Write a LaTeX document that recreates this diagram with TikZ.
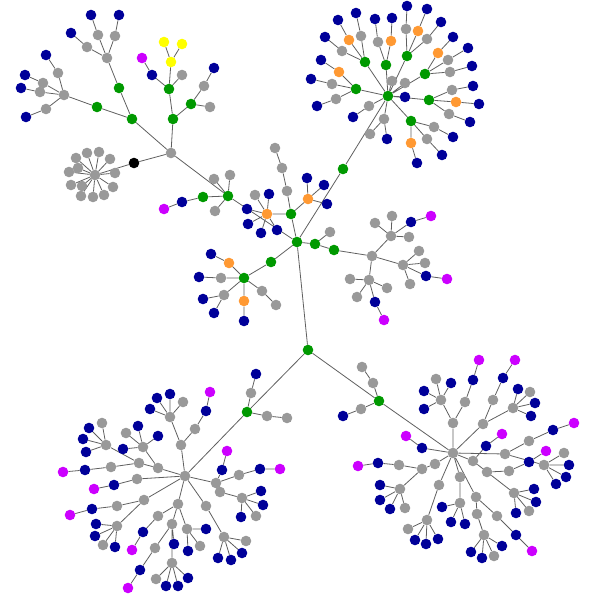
\documentclass[tikz,border=0pt]{standalone}
\usetikzlibrary{backgrounds}
\definecolor{tagGray}{RGB}{153, 153, 153}
\definecolor{tagBlue}{RGB}{0, 0, 153}
\definecolor{tagGreen}{RGB}{0, 153, 0}
\definecolor{tagOrange}{RGB}{255, 153, 51}
\definecolor{tagPink}{RGB}{204, 0, 255}
\definecolor{tagYellow}{RGB}{255, 255, 0}
\definecolor{wireGray}{RGB}{95, 95, 95}
\begin{document}
\begin{tikzpicture}[
    x=1pt, y=-1pt,
    dot/.style={circle, minimum size=10.6pt, inner sep=0pt},
    graydot/.style={dot, fill=tagGray},
    bluedot/.style={dot, fill=tagBlue},
    greendot/.style={dot, fill=tagGreen},
    orangedot/.style={dot, fill=tagOrange},
    pinkdot/.style={dot, fill=tagPink},
    yellowdot/.style={dot, fill=tagYellow},
    blackdot/.style={dot, fill=black},
    wire/.style={draw=wireGray, line width=0.8pt}
]
\useasboundingbox (0,0) rectangle (589,597);

% Hubs
\node[greendot] (root) at (308,350) {};
\node[greendot] (mid) at (297,242) {};
\node[greendot] (ne) at (388,96) {};
\node[graydot] (nw) at (171,153) {};
\node[graydot] (east) at (372,256) {};
\node[graydot] (sw) at (185,476) {};
\node[graydot] (se) at (453,453) {};

% Root branch
\node[greendot] (r1) at (247,412) {};
\node[graydot] (r2) at (251,393) {};
\node[bluedot] (r3) at (256,374) {};
\node[graydot] (r4) at (267,416) {};
\node[graydot] (r5) at (287,418) {};
\node[greendot] (r6) at (379,401) {};
\node[graydot] (r7) at (361,409) {};
\node[bluedot] (r8) at (343,416) {};
\node[graydot] (r9) at (373,383) {};
\node[graydot] (r10) at (362,367) {};

% Middle branch
\node[greendot] (m1) at (315,244) {};
\node[greendot] (m2) at (334,250) {};
\node[graydot] (m3) at (330,232) {};
\node[greendot] (m4) at (291,214) {};
\node[orangedot] (m5) at (308,199) {};
\node[bluedot] (m6) at (307,178) {};
\node[bluedot] (m7) at (324,185) {};
\node[bluedot] (m8) at (327,204) {};
\node[graydot] (m9) at (287,191) {};
\node[graydot] (m10) at (282,168) {};
\node[graydot] (m11) at (275,148) {};
\node[orangedot] (m12) at (267,214) {};
\node[bluedot] (m13) at (247,209) {};
\node[bluedot] (m14) at (248,224) {};
\node[bluedot] (m15) at (261,233) {};
\node[bluedot] (m16) at (277,230) {};
\node[bluedot] (m17) at (269,194) {};
\node[graydot] (m18) at (255,195) {};
\node[greendot] (m19) at (343,169) {};
\node[greendot] (m20) at (228,196) {};
\node[graydot] (m21) at (214,179) {};
\node[graydot] (m22) at (230,175) {};
\node[graydot] (m23) at (215,211) {};
\node[greendot] (m24) at (203,197) {};
\node[bluedot] (m25) at (182,202) {};
\node[pinkdot] (m26) at (164,209) {};
\node[greendot] (m27) at (271,262) {};
\node[greendot] (m28) at (244,278) {};
\node[orangedot] (m29) at (229,263) {};
\node[bluedot] (m30) at (211,254) {};
\node[graydot] (m31) at (221,278) {};
\node[bluedot] (m32) at (199,277) {};
\node[graydot] (m33) at (224,295) {};
\node[bluedot] (m34) at (203,299) {};
\node[bluedot] (m35) at (214,313) {};
\node[orangedot] (m36) at (244,301) {};
\node[bluedot] (m37) at (244,321) {};
\node[graydot] (m38) at (262,291) {};
\node[graydot] (m39) at (276,305) {};

% East branch
\node[graydot] (e1) at (391,236) {};
\node[graydot] (e2) at (375,223) {};
\node[graydot] (e3) at (392,216) {};
\node[bluedot] (e4) at (411,222) {};
\node[pinkdot] (e5) at (431,216) {};
\node[graydot] (e6) at (409,237) {};
\node[graydot] (e7) at (369,280) {};
\node[graydot] (e8) at (350,279) {};
\node[graydot] (e9) at (357,297) {};
\node[graydot] (e10) at (387,288) {};
\node[bluedot] (e11) at (375,302) {};
\node[pinkdot] (e12) at (384,320) {};
\node[graydot] (e13) at (403,265) {};
\node[graydot] (e14) at (419,251) {};
\node[graydot] (e15) at (425,263) {};
\node[bluedot] (e16) at (426,276) {};
\node[pinkdot] (e17) at (447,279) {};
\node[graydot] (e18) at (410,284) {};

% North-east branch
\node[greendot] (n1) at (365,62) {};
\node[orangedot] (n2) at (349,40) {};
\node[bluedot] (n3) at (338,20) {};
\node[graydot] (n4) at (361,36) {};
\node[bluedot] (n5) at (356,13) {};
\node[graydot] (n6) at (342,51) {};
\node[bluedot] (n7) at (325,37) {};
\node[greendot] (n8) at (386,65) {};
\node[graydot] (n9) at (378,42) {};
\node[bluedot] (n10) at (375,19) {};
\node[orangedot] (n11) at (391,41) {};
\node[bluedot] (n12) at (392,18) {};
\node[greendot] (n13) at (356,89) {};
\node[orangedot] (n14) at (339,72) {};
\node[bluedot] (n15) at (321,60) {};
\node[graydot] (n16) at (332,84) {};
\node[bluedot] (n17) at (311,79) {};
\node[graydot] (n18) at (336,99) {};
\node[bluedot] (n19) at (317,106) {};
\node[graydot] (n20) at (369,106) {};
\node[bluedot] (n21) at (353,117) {};
\node[graydot] (n22) at (384,119) {};
\node[graydot] (n23) at (370,134) {};
\node[bluedot] (n24) at (387,139) {};
\node[graydot] (n25) at (392,81) {};
\node[graydot] (n26) at (405,83) {};
\node[bluedot] (n27) at (405,97) {};
\node[greendot] (n28) at (407,56) {};
\node[graydot] (n29) at (406,29) {};
\node[bluedot] (n30) at (407,6) {};
\node[orangedot] (n31) at (418,31) {};
\node[bluedot] (n32) at (427,9) {};
\node[graydot] (n33) at (427,39) {};
\node[bluedot] (n34) at (441,22) {};
\node[greendot] (n35) at (425,74) {};
\node[orangedot] (n36) at (438,53) {};
\node[bluedot] (n37) at (453,37) {};
\node[graydot] (n38) at (448,60) {};
\node[bluedot] (n39) at (468,48) {};
\node[graydot] (n40) at (450,72) {};
\node[bluedot] (n41) at (472,66) {};
\node[greendot] (n42) at (429,100) {};
\node[graydot] (n43) at (452,90) {};
\node[bluedot] (n44) at (473,86) {};
\node[orangedot] (n45) at (456,102) {};
\node[bluedot] (n46) at (479,104) {};
\node[graydot] (n47) at (449,114) {};
\node[bluedot] (n48) at (470,122) {};
\node[greendot] (n49) at (411,121) {};
\node[graydot] (n50) at (434,127) {};
\node[bluedot] (n51) at (453,137) {};
\node[graydot] (n52) at (427,139) {};
\node[bluedot] (n53) at (442,155) {};
\node[orangedot] (n54) at (411,143) {};
\node[bluedot] (n55) at (417,163) {};

% North-west branch
\node[blackdot] (w1) at (134,163) {};
\node[graydot] (w2) at (95,175) {};
\node[greendot] (w3) at (173,119) {};
\node[greendot] (w4) at (169,89) {};
\node[yellowdot] (w5) at (171,62) {};
\node[yellowdot] (w6) at (164,42) {};
\node[yellowdot] (w7) at (182,44) {};
\node[bluedot] (w8) at (152,75) {};
\node[pinkdot] (w9) at (142,58) {};
\node[graydot] (w10) at (182,75) {};
\node[greendot] (w11) at (191,104) {};
\node[graydot] (w12) at (204,86) {};
\node[bluedot] (w13) at (214,68) {};
\node[graydot] (w14) at (210,107) {};
\node[greendot] (w15) at (132,119) {};
\node[greendot] (w16) at (119,88) {};
\node[graydot] (w17) at (107,58) {};
\node[graydot] (w18) at (87,47) {};
\node[bluedot] (w19) at (71,33) {};
\node[graydot] (w20) at (98,35) {};
\node[bluedot] (w21) at (91,15) {};
\node[graydot] (w22) at (115,36) {};
\node[bluedot] (w23) at (119,15) {};
\node[greendot] (w24) at (97,107) {};
\node[graydot] (w25) at (64,95) {};
\node[graydot] (w26) at (58,73) {};
\node[bluedot] (w27) at (46,55) {};
\node[graydot] (w28) at (43,83) {};
\node[bluedot] (w29) at (25,75) {};
\node[graydot] (w30) at (40,92) {};
\node[bluedot] (w31) at (21,88) {};
\node[graydot] (w32) at (46,109) {};
\node[bluedot] (w33) at (26,117) {};

% Star round w2
\node[graydot] (s1) at (76,158) {};
\node[graydot] (s2) at (87,153) {};
\node[graydot] (s3) at (99,152) {};
\node[graydot] (s4) at (110,159) {};
\node[graydot] (s5) at (115,173) {};
\node[graydot] (s6) at (113,187) {};
\node[graydot] (s7) at (104,195) {};
\node[graydot] (s8) at (93,197) {};
\node[graydot] (s9) at (81,196) {};
\node[graydot] (s10) at (71,185) {};
\node[graydot] (s11) at (69,172) {};
\node[graydot] (s12) at (78,168) {};
\node[graydot] (s13) at (82,186) {};

% South-west branch
\node[graydot] (a1) at (181,445) {};
\node[graydot] (a2) at (195,429) {};
\node[bluedot] (a3) at (206,411) {};
\node[pinkdot] (a4) at (210,392) {};
\node[graydot] (a5) at (170,417) {};
\node[bluedot] (a6) at (157,398) {};
\node[bluedot] (a7) at (170,394) {};
\node[graydot] (a8) at (183,402) {};
\node[bluedot] (a9) at (150,409) {};
\node[graydot] (a10) at (158,468) {};
\node[graydot] (a11) at (143,447) {};
\node[bluedot] (a12) at (138,426) {};
\node[bluedot] (a13) at (158,436) {};
\node[graydot] (a14) at (126,433) {};
\node[bluedot] (a15) at (123,449) {};
\node[graydot] (a16) at (139,463) {};
\node[graydot] (a17) at (106,445) {};
\node[graydot] (a18) at (102,423) {};
\node[bluedot] (a19) at (89,428) {};
\node[bluedot] (a20) at (83,439) {};
\node[bluedot] (a21) at (86,452) {};
\node[graydot] (a22) at (111,467) {};
\node[bluedot] (a23) at (85,470) {};
\node[pinkdot] (a24) at (63,472) {};
\node[graydot] (a25) at (137,479) {};
\node[bluedot] (a26) at (114,485) {};
\node[pinkdot] (a27) at (94,489) {};
\node[graydot] (a28) at (144,500) {};
\node[graydot] (a29) at (117,506) {};
\node[bluedot] (a30) at (92,509) {};
\node[pinkdot] (a31) at (70,515) {};
\node[graydot] (a32) at (117,526) {};
\node[bluedot] (a33) at (96,524) {};
\node[bluedot] (a34) at (95,536) {};
\node[graydot] (a35) at (103,545) {};
\node[bluedot] (a36) at (115,547) {};
\node[graydot] (a37) at (178,504) {};
\node[graydot] (a38) at (158,516) {};
\node[bluedot] (a39) at (143,532) {};
\node[pinkdot] (a40) at (132,550) {};
\node[graydot] (a41) at (172,524) {};
\node[bluedot] (a42) at (174,544) {};
\node[graydot] (a43) at (172,563) {};
\node[graydot] (a44) at (156,579) {};
\node[bluedot] (a45) at (166,586) {};
\node[bluedot] (a46) at (178,586) {};
\node[bluedot] (a47) at (188,578) {};
\node[graydot] (a48) at (155,548) {};
\node[bluedot] (a49) at (140,570) {};
\node[pinkdot] (a50) at (128,588) {};
\node[graydot] (a51) at (187,529) {};
\node[bluedot] (a52) at (188,551) {};
\node[graydot] (a53) at (200,546) {};
\node[bluedot] (a54) at (206,529) {};
\node[graydot] (a55) at (206,506) {};
\node[graydot] (a56) at (224,537) {};
\node[bluedot] (a57) at (218,558) {};
\node[bluedot] (a58) at (231,560) {};
\node[bluedot] (a59) at (242,553) {};
\node[graydot] (a60) at (246,541) {};
\node[graydot] (a61) at (216,483) {};
\node[bluedot] (a62) at (222,470) {};
\node[pinkdot] (a63) at (227,451) {};
\node[graydot] (a64) at (239,475) {};
\node[bluedot] (a65) at (260,469) {};
\node[pinkdot] (a66) at (280,469) {};
\node[graydot] (a67) at (220,492) {};
\node[graydot] (a68) at (242,498) {};
\node[bluedot] (a69) at (261,491) {};
\node[bluedot] (a70) at (263,505) {};
\node[bluedot] (a71) at (241,517) {};
\node[graydot] (a72) at (256,516) {};

% South-east branch
\node[graydot] (b1) at (453,423) {};
\node[graydot] (b2) at (441,400) {};
\node[bluedot] (b3) at (424,391) {};
\node[bluedot] (b4) at (424,409) {};
\node[graydot] (b5) at (436,379) {};
\node[bluedot] (b6) at (451,383) {};
\node[graydot] (b7) at (465,402) {};
\node[bluedot] (b8) at (473,380) {};
\node[pinkdot] (b9) at (479,360) {};
\node[graydot] (b10) at (483,424) {};
\node[graydot] (b11) at (493,400) {};
\node[bluedot] (b12) at (503,378) {};
\node[pinkdot] (b13) at (515,360) {};
\node[graydot] (b14) at (513,408) {};
\node[bluedot] (b15) at (535,403) {};
\node[bluedot] (b16) at (531,416) {};
\node[graydot] (b17) at (530,392) {};
\node[bluedot] (b18) at (518,389) {};
\node[graydot] (b19) at (473,461) {};
\node[bluedot] (b20) at (486,446) {};
\node[pinkdot] (b21) at (502,434) {};
\node[graydot] (b22) at (487,472) {};
\node[graydot] (b23) at (509,471) {};
\node[bluedot] (b24) at (529,462) {};
\node[pinkdot] (b25) at (546,451) {};
\node[graydot] (b26) at (514,493) {};
\node[bluedot] (b27) at (534,489) {};
\node[bluedot] (b28) at (536,502) {};
\node[bluedot] (b29) at (516,513) {};
\node[graydot] (b30) at (529,511) {};
\node[graydot] (b31) at (505,454) {};
\node[graydot] (b32) at (529,441) {};
\node[bluedot] (b33) at (553,430) {};
\node[pinkdot] (b34) at (574,423) {};
\node[graydot] (b35) at (544,465) {};
\node[graydot] (b36) at (564,453) {};
\node[bluedot] (b37) at (569,465) {};
\node[bluedot] (b38) at (566,477) {};
\node[bluedot] (b39) at (556,484) {};
\node[bluedot] (b40) at (422,448) {};
\node[pinkdot] (b41) at (406,436) {};
\node[graydot] (b42) at (435,464) {};
\node[graydot] (b43) at (422,469) {};
\node[graydot] (b44) at (399,465) {};
\node[bluedot] (b45) at (378,463) {};
\node[pinkdot] (b46) at (358,466) {};
\node[graydot] (b47) at (400,489) {};
\node[bluedot] (b48) at (380,485) {};
\node[bluedot] (b49) at (380,500) {};
\node[bluedot] (b50) at (390,509) {};
\node[graydot] (b51) at (405,508) {};
\node[graydot] (b52) at (439,485) {};
\node[graydot] (b53) at (427,520) {};
\node[graydot] (b54) at (408,529) {};
\node[bluedot] (b55) at (415,540) {};
\node[bluedot] (b56) at (426,544) {};
\node[bluedot] (b57) at (438,539) {};
\node[graydot] (b58) at (460,477) {};
\node[graydot] (b59) at (460,503) {};
\node[bluedot] (b60) at (442,507) {};
\node[bluedot] (b61) at (451,522) {};
\node[bluedot] (b62) at (465,524) {};
\node[graydot] (b63) at (476,497) {};
\node[graydot] (b64) at (497,516) {};
\node[bluedot] (b65) at (516,535) {};
\node[pinkdot] (b66) at (532,551) {};
\node[graydot] (b67) at (477,514) {};
\node[graydot] (b68) at (484,535) {};
\node[bluedot] (b69) at (471,552) {};
\node[bluedot] (b70) at (482,558) {};
\node[graydot] (b71) at (494,556) {};
\node[bluedot] (b72) at (502,546) {};

% Connectors
\begin{scope}[on background layer]
\draw[wire] (root) -- (r1) -- (sw) (r1) -- (r2) -- (r3) (r1) -- (r4) -- (r5)
    (root) -- (r6) -- (se) (r6) -- (r7) -- (r8) (r6) -- (r9) -- (r10) (root) -- (mid);
\draw[wire] (mid) -- (m1) -- (m2) -- (east) (m1) -- (m3)
    (mid) -- (m4) -- (m5) -- (m6) (m5) -- (m7) (m5) -- (m8)
    (m4) -- (m9) -- (m10) -- (m11)
    (m4) -- (m12) -- (m13) (m12) -- (m14) (m12) -- (m15) (m12) -- (m16) (m12) -- (m17) (m12) -- (m18)
    (mid) -- (m19) -- (ne) (mid) -- (m20) -- (nw)
    (m20) -- (m21) (m20) -- (m22) (m20) -- (m23) (m20) -- (m24) -- (m25) -- (m26)
    (mid) -- (m27) -- (m28) -- (m29) -- (m30) (m28) -- (m31) -- (m32)
    (m28) -- (m33) -- (m34) (m33) -- (m35) (m28) -- (m36) -- (m37) (m28) -- (m38) -- (m39);
\draw[wire] (east) -- (e1) -- (e2) (e1) -- (e3) (e1) -- (e4) -- (e5) (e1) -- (e6)
    (east) -- (e7) -- (e8) (e7) -- (e9) (e7) -- (e10) (e7) -- (e11) -- (e12)
    (east) -- (e13) -- (e14) (e13) -- (e15) (e13) -- (e16) -- (e17) (e13) -- (e18);
\draw[wire] (ne) -- (n1) -- (n2) -- (n3) (n1) -- (n4) -- (n5) (n1) -- (n6) -- (n7)
    (ne) -- (n8) -- (n9) -- (n10) (n8) -- (n11) -- (n12)
    (ne) -- (n13) -- (n14) -- (n15) (n13) -- (n16) -- (n17) (n13) -- (n18) -- (n19)
    (ne) -- (n20) -- (n21) (ne) -- (n22) -- (n23) (n22) -- (n24)
    (ne) -- (n25) (ne) -- (n26) (ne) -- (n27)
    (ne) -- (n28) -- (n29) -- (n30) (n28) -- (n31) -- (n32) (n28) -- (n33) -- (n34)
    (ne) -- (n35) -- (n36) -- (n37) (n35) -- (n38) -- (n39) (n35) -- (n40) -- (n41)
    (ne) -- (n42) -- (n43) -- (n44) (n42) -- (n45) -- (n46) (n42) -- (n47) -- (n48)
    (ne) -- (n49) -- (n50) -- (n51) (n49) -- (n52) -- (n53) (n49) -- (n54) -- (n55);
\draw[wire] (nw) -- (w1) -- (w2)
    (nw) -- (w3) -- (w4) -- (w5) -- (w6) (w5) -- (w7) (w4) -- (w8) -- (w9) (w4) -- (w10)
    (w3) -- (w11) -- (w12) -- (w13) (w11) -- (w14)
    (nw) -- (w15) -- (w16) -- (w17) -- (w18) -- (w19) (w17) -- (w20) -- (w21) (w17) -- (w22) -- (w23)
    (w15) -- (w24) -- (w25) -- (w26) -- (w27) (w25) -- (w28) -- (w29)
    (w25) -- (w30) -- (w31) (w25) -- (w32) -- (w33);
\draw[wire] (w2) -- (s1) (w2) -- (s2) (w2) -- (s3) (w2) -- (s4) (w2) -- (s5) (w2) -- (s6) (w2) -- (s7)
    (w2) -- (s8) (w2) -- (s9) (w2) -- (s10) (w2) -- (s11) (w2) -- (s12) (w2) -- (s13);
\draw[wire] (sw) -- (a1) -- (a2) -- (a3) -- (a4)
    (a1) -- (a5) -- (a6) (a5) -- (a7) (a5) -- (a8) (a5) -- (a9)
    (sw) -- (a10) -- (a11) -- (a12) (a11) -- (a13) (a11) -- (a14) (a11) -- (a15)
    (a10) -- (a16) -- (a17) -- (a18) (a17) -- (a19) (a17) -- (a20) (a17) -- (a21)
    (a16) -- (a22) -- (a23) -- (a24) (sw) -- (a25) -- (a26) -- (a27)
    (sw) -- (a28) -- (a29) -- (a30) -- (a31)
    (a28) -- (a32) -- (a33) (a32) -- (a34) (a32) -- (a35) (a32) -- (a36)
    (sw) -- (a37) -- (a38) -- (a39) -- (a40)
    (a37) -- (a41) -- (a42) (a41) -- (a43) -- (a44) (a43) -- (a45) (a43) -- (a46) (a43) -- (a47)
    (a41) -- (a48) -- (a49) -- (a50)
    (a37) -- (a51) -- (a52) (a51) -- (a53) (a51) -- (a54)
    (sw) -- (a55) -- (a56) -- (a57) (a56) -- (a58) (a56) -- (a59) (a56) -- (a60)
    (sw) -- (a61) -- (a62) -- (a63) (a61) -- (a64) -- (a65) -- (a66)
    (a61) -- (a67) -- (a68) -- (a69) (a68) -- (a70) (a68) -- (a71) (a68) -- (a72);
\draw[wire] (se) -- (b1) -- (b2) -- (b3) (b2) -- (b4) (b2) -- (b5) (b2) -- (b6)
    (b1) -- (b7) -- (b8) -- (b9)
    (se) -- (b10) -- (b11) -- (b12) -- (b13)
    (b10) -- (b14) -- (b15) (b14) -- (b16) (b14) -- (b17) (b14) -- (b18)
    (se) -- (b19) -- (b20) -- (b21) (b19) -- (b22) -- (b23) -- (b24) -- (b25)
    (b22) -- (b26) -- (b27) (b26) -- (b28) (b26) -- (b29) (b26) -- (b30)
    (se) -- (b31) -- (b32) -- (b33) -- (b34)
    (b31) -- (b35) -- (b36) (b35) -- (b37) (b35) -- (b38) (b35) -- (b39)
    (se) -- (b40) -- (b41)
    (se) -- (b42) -- (b43) -- (b44) -- (b45) -- (b46)
    (b43) -- (b47) -- (b48) (b47) -- (b49) (b47) -- (b50) (b47) -- (b51)
    (se) -- (b52) -- (b53) -- (b54) (b53) -- (b55) (b53) -- (b56) (b53) -- (b57)
    (se) -- (b58) -- (b59) -- (b60) (b59) -- (b61) (b59) -- (b62)
    (se) -- (b63) -- (b64) -- (b65) -- (b66)
    (b63) -- (b67) -- (b68) -- (b69) (b68) -- (b70) (b68) -- (b71) (b68) -- (b72);
\end{scope}

\end{tikzpicture}
\end{document}
